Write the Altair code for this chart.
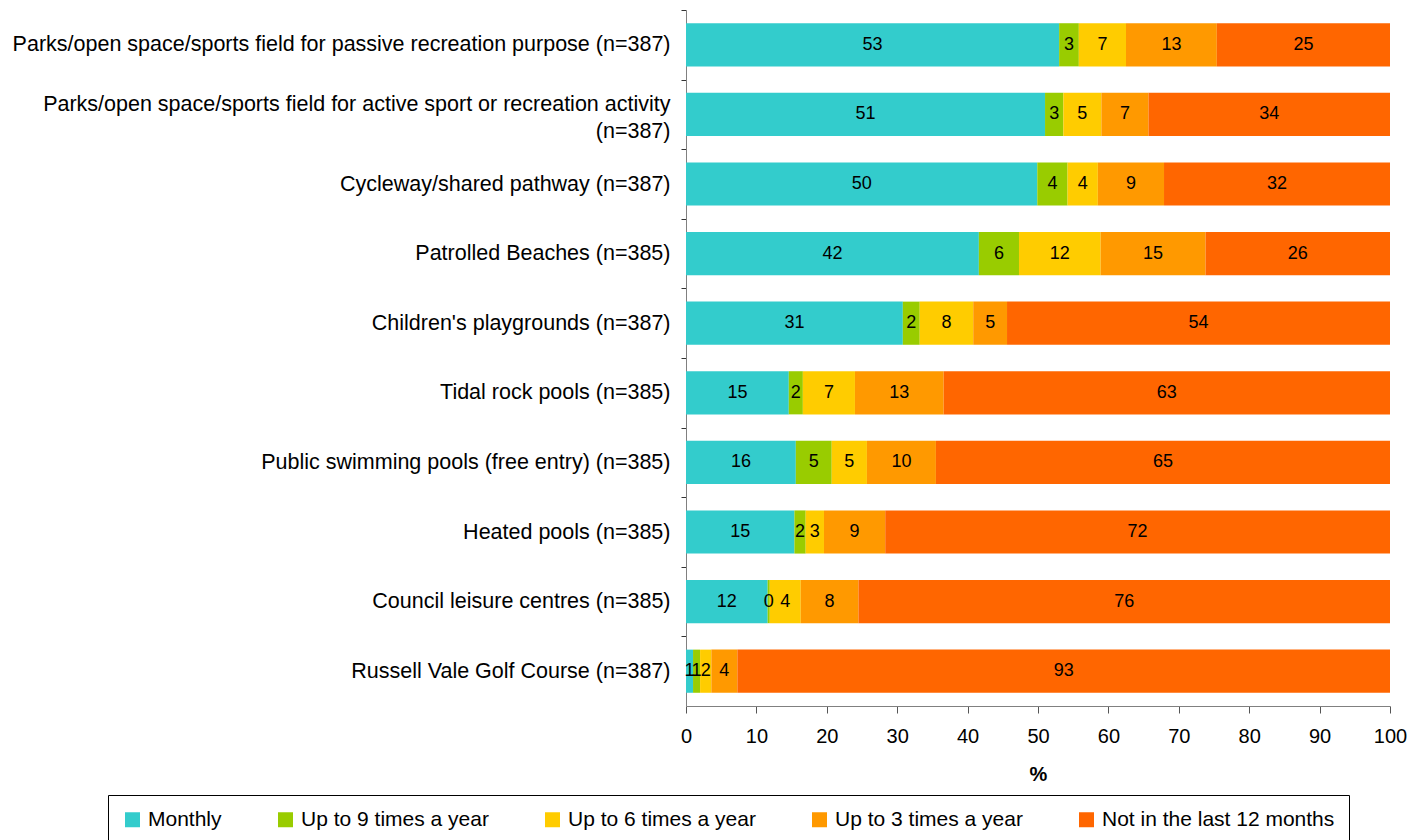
import altair as alt
import pandas as pd

categories = [
    "Parks/open space/sports field for passive recreation purpose (n=387)",
    "Parks/open space/sports field for active sport or recreation activity|(n=387)",
    "Cycleway/shared pathway (n=387)",
    "Patrolled Beaches (n=385)",
    "Children's playgrounds (n=387)",
    "Tidal rock pools (n=385)",
    "Public swimming pools (free entry) (n=385)",
    "Heated pools (n=385)",
    "Council leisure centres (n=385)",
    "Russell Vale Golf Course (n=387)",
]
series = [
    "Monthly",
    "Up to 9 times a year",
    "Up to 6 times a year",
    "Up to 3 times a year",
    "Not in the last 12 months",
]
colors = ["#33CCCC", "#99CC00", "#FFCC00", "#FF9900", "#FF6600"]

monthly = [53.0, 51.0, 49.9, 41.6, 30.8, 14.6, 15.6, 15.4, 11.6, 1.0]
up_to_9 = [2.8, 2.6, 4.3, 5.7, 2.4, 2.0, 5.1, 1.6, 0.3, 1.0]
up_to_6 = [6.7, 5.4, 4.3, 11.6, 7.6, 7.4, 5.0, 2.6, 4.4, 1.6]
up_to_3 = [12.9, 6.7, 9.4, 14.9, 4.8, 12.6, 9.8, 8.7, 8.2, 3.7]
not_12 = [24.6, 34.3, 32.1, 26.2, 54.4, 63.4, 64.5, 71.7, 75.5, 92.7]

x_ticks = [0, 10, 20, 30, 40, 50, 60, 70, 80, 90, 100]

all_series = [monthly, up_to_9, up_to_6, up_to_3, not_12]
rows = []
for i, c in enumerate(categories):
    for j, s in enumerate(series):
        rows.append({"cat": c, "series": s, "order": j, "value": all_series[j][i]})
df = pd.DataFrame(rows)

FONT = "Liberation Sans"
PLOT_H = 696
STEP = PLOT_H / len(categories)

base = alt.Chart(df).transform_stack(
    stack="value", groupby=["cat"], sort=[alt.SortField("order", order="ascending")], as_=["x0", "x1"]
).transform_calculate(mid="(datum.x0 + datum.x1) / 2")

y_enc = alt.Y(
    "cat:N",
    sort=categories,
    title=None,
    scale=alt.Scale(paddingInner=0.38, paddingOuter=0.19),
    axis=alt.Axis(
        labelExpr="split(datum.label, '|')",
        labelFont=FONT,
        labelFontSize=21.5,
        labelColor="black",
        labelLimit=1000,
        labelLineHeight=27,
        labelPadding=11,
        tickSize=5,
        tickColor="#333333",
        tickOffset=-STEP / 2,
        labelOffset={
            "condition": {"test": "indexof(datum.value, '|') >= 0", "value": STEP / 2 - 10},
            "value": STEP / 2,
        },
        domainColor="#808080",
        minExtent=678,
        maxExtent=678,
    ),
)

bars = base.mark_bar().encode(
    x=alt.X(
        "x0:Q",
        title="%",
        scale=alt.Scale(domain=[0, 100], nice=False),
        axis=alt.Axis(
            values=x_ticks,
            grid=False,
            labelFlush=False,
            labelFont=FONT,
            labelFontSize=20,
            labelColor="black",
            labelPadding=13,
            tickSize=7,
            tickColor="#555555",
            domainColor="#808080",
            titleFont=FONT,
            titleFontSize=20,
            titleFontWeight="bold",
            titleColor="black",
            titlePadding=18,
        ),
    ),
    x2="x1:Q",
    y=y_enc,
    color=alt.Color(
        "series:N",
        sort=series,
        scale=alt.Scale(domain=series, range=colors),
        legend=alt.Legend(
            title=None,
            orient="none",
            legendX=-578,
            legendY=785,
            direction="horizontal",
            columns=5,
            columnPadding=53,
            symbolType="square",
            symbolSize=225,
            symbolStrokeWidth=0,
            labelFont=FONT,
            labelFontSize=21,
            labelLimit=500,
            labelColor="black",
            labelOffset=5,
            strokeColor="black",
            fillColor="white",
            padding=14,
        ),
    ),
)

text = base.mark_text(font=FONT, fontSize=18, color="black").encode(
    x=alt.X("mid:Q"),
    y=alt.Y("cat:N", sort=categories),
    text=alt.Text("value:Q", format=".0f"),
)

chart = (
    alt.layer(bars, text)
    .properties(width=704, height=PLOT_H, padding={"left": 0, "top": 1, "right": 0, "bottom": 0})
    .configure_view(stroke=None)
)

chart.save("out.html", embed_options={"renderer": "svg", "actions": False})
